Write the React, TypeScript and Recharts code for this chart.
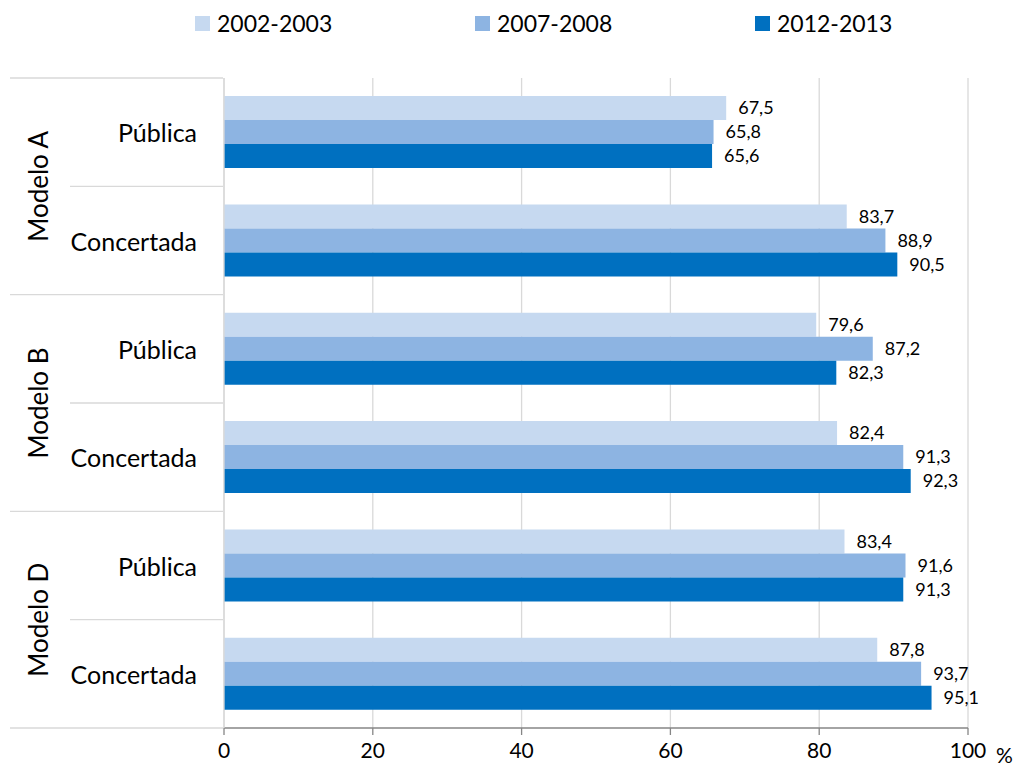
import { BarChart, Bar, XAxis, YAxis, CartesianGrid, LabelList } from 'recharts';

const categories = ['Pública', 'Concertada', 'Pública', 'Concertada', 'Pública', 'Concertada'];
const models = ['Modelo A', 'Modelo A', 'Modelo B', 'Modelo B', 'Modelo D', 'Modelo D'];

const s2002 = [67.5, 83.7, 79.6, 82.4, 83.4, 87.8];
const s2007 = [65.8, 88.9, 87.2, 91.3, 91.6, 93.7];
const s2012 = [65.6, 90.5, 82.3, 92.3, 91.3, 95.1];

const seriesNames = ['2002-2003', '2007-2008', '2012-2013'];
const seriesColors = ['#C6D9F0', '#8DB4E2', '#0070C0'];
const xTicks = [0, 20, 40, 60, 80, 100];
const unitLabel = '%';

const data = categories.map((cat, i) => ({
  key: `${models[i]}|${cat}|${i}`,
  cat,
  model: models[i],
  a: s2002[i],
  b: s2007[i],
  c: s2012[i],
}));

const FONT = 'Lato, "Open Sans", sans-serif';
const TOP = 78;
const BOTTOM_AXIS = 38;
const HEIGHT = 766;
const BAND = (HEIGHT - TOP - BOTTOM_AXIS) / categories.length;
const PLOT_LEFT = 224;

const fmt = (v: any) => Number(v).toFixed(1).replace('.', ',');

// category label, model label and group separator lines
function CatTick(props: any) {
  const { y, index } = props;
  const d = data[index];
  if (!d) return null;
  const top = y - BAND / 2;
  const isFirstOfModel = index % 2 === 0;
  return (
    <g>
      <line
        x1={isFirstOfModel ? 10 : 70}
        x2={PLOT_LEFT - 1}
        y1={top}
        y2={top}
        stroke="#d9d9d9"
        strokeWidth={1.3}
      />
      {index === categories.length - 1 && (
        <line x1={10} x2={PLOT_LEFT - 1} y1={top + BAND} y2={top + BAND} stroke="#d9d9d9" strokeWidth={1.3} />
      )}
      <text x={197} y={y} textAnchor="end" dominantBaseline="central" fontSize={25} fill="#000" fontFamily={FONT}>
        {d.cat}
      </text>
      {isFirstOfModel && (
        <text
          x={38}
          y={top + BAND}
          textAnchor="middle"
          dominantBaseline="central"
          fontSize={26}
          fill="#000"
          fontFamily={FONT}
          transform={`rotate(-90, 38, ${top + BAND})`}
        >
          {d.model}
        </text>
      )}
    </g>
  );
}

function LegendRow() {
  return (
    <div
      style={{
        position: 'absolute',
        top: 8,
        left: 195,
        display: 'flex',
        fontFamily: FONT,
        fontSize: 23,
        color: '#000',
        lineHeight: '30px',
      }}
    >
      {seriesNames.map((n, i) => (
        <div key={n} style={{ width: 280, display: 'flex', alignItems: 'center' }}>
          <span style={{ width: 15, height: 15, background: seriesColors[i], display: 'inline-block', marginRight: 7 }} />
          <span>{n}</span>
        </div>
      ))}
    </div>
  );
}

export default function App() {
  const keys = ['a', 'b', 'c'];
  return (
    <div style={{ position: 'absolute', left: 0, top: 0, width: 1018, height: 766, background: '#fff' }}>
      <BarChart
        width={1018}
        height={HEIGHT}
        data={data}
        layout="vertical"
        margin={{ top: TOP, right: 50, bottom: 0, left: 0 }}
        barCategoryGap="16.7%"
        barGap={0}
      >
        <CartesianGrid horizontal={false} stroke="#d9d9d9" strokeWidth={1.3} />
        <XAxis
          type="number"
          domain={[0, 100]}
          ticks={xTicks}
          height={BOTTOM_AXIS}
          axisLine={{ stroke: '#868686', strokeWidth: 1.3 }}
          tickLine={{ stroke: '#868686', strokeWidth: 1.3 }}
          tickSize={7}
          tick={{ fontSize: 21, fill: '#000', fontFamily: FONT, dy: 6 }}
          interval={0}
        />
        <YAxis
          type="category"
          dataKey="key"
          width={PLOT_LEFT}
          axisLine={{ stroke: '#d9d9d9', strokeWidth: 1.3 }}
          tickLine={false}
          tick={<CatTick />}
          interval={0}
        />
        {keys.map((k, i) => (
          <Bar key={k} dataKey={k} name={seriesNames[i]} fill={seriesColors[i]} isAnimationActive={false}>
            <LabelList
              dataKey={k}
              position="right"
              offset={12}
              formatter={fmt}
              style={{ fontSize: 18, fill: '#000', fontFamily: FONT }}
            />
          </Bar>
        ))}
      </BarChart>
      <LegendRow />
      <div
        style={{
          position: 'absolute',
          left: 996,
          top: 742,
          fontFamily: FONT,
          fontSize: 21,
          lineHeight: '26px',
          color: '#000',
        }}
      >
        {unitLabel}
      </div>
    </div>
  );
}
